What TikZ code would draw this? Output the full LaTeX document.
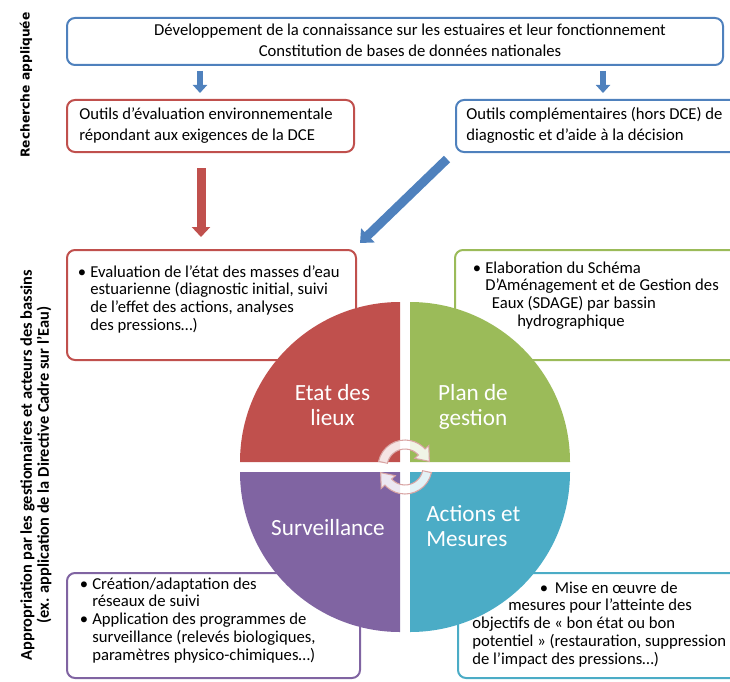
\documentclass[tikz,border=0pt]{standalone}
\usepackage{fontspec}
\setmainfont{Carlito}
\newfontfamily\verdanalike{DejaVu Sans}
\usetikzlibrary{arrows.meta,fit,calc}
\definecolor{oBlue}{HTML}{4F81BD}
\definecolor{oRed}{HTML}{C0504D}
\definecolor{oGreen}{HTML}{9BBB59}
\definecolor{oPurple}{HTML}{8064A2}
\definecolor{oTeal}{HTML}{4BACC6}
\definecolor{cycEdge}{HTML}{D9A5A4}
\begin{document}
\begin{tikzpicture}[x=0.75pt,y=-0.75pt,
  panel/.style={draw=#1, line width=1.5pt, rounded corners=6pt, inner sep=0pt},
  bodytext/.style={inner sep=0pt, align=left, anchor=base west, font=\fontsize{12.5}{13.4}\selectfont},
  quadlabel/.style={text=white, inner sep=0pt, anchor=base, font=\fontsize{17.4}{18.75}\selectfont},
  cyc/.style={fill=white, fill opacity=0.85, draw=cycEdge, line width=0.8pt},
]
\useasboundingbox (0,0) rectangle (730,681);

% boxes
\node[panel=oBlue, fit={(67,18) (723,65)}] (top) {};
\node[panel=oRed, fit={(67,100) (354,152)}] (evalbox) {};
\node[panel=oBlue, fit={(456,100) (745,152)}] (toolbox) {};
\node[panel=oRed, fit={(67,250) (356,360)}] (etatbox) {};
\node[panel=oGreen, fit={(455,250) (745,360)}] (planbox) {};
\node[panel=oPurple, fit={(67,573) (360,678)}] (survbox) {};
\node[panel=oTeal, fit={(458,573) (745,678)}] (actbox) {};

% box texts (base anchor = baseline of last line)
\node[bodytext, align=center, anchor=base, font=\fontsize{12.5}{15.75}\selectfont] (topTxt) at (410,57)
  {Développement de la connaissance sur les estuaires et leur fonctionnement\\Constitution de bases de données nationales};
\node[bodytext, font=\fontsize{12.5}{15}\selectfont] (evalTxt) at (79,140)
  {Outils d’évaluation environnementale\\répondant aux exigences de la DCE};
\node[bodytext, font=\fontsize{12.5}{15}\selectfont] (toolTxt) at (466,140)
  {Outils complémentaires (hors DCE) de\\diagnostic et d’aide à la décision};
\node[bodytext] (etatTxt) at (90,330.6)
  {\llap{\textbullet\hspace{3pt}}Evaluation de l’état des masses d’eau\\estuarienne (diagnostic initial, suivi\\de l’effet des actions, analyses\\des pressions…)};
\node[bodytext] (planTxt) at (485,326.6)
  {\llap{\textbullet\hspace{3pt}}Elaboration du Schéma\\D’Aménagement et de Gestion des\\\hspace*{5pt}Eaux (SDAGE) par bassin\\\hspace*{24pt}hydrographique};
\node[bodytext] (survTxt) at (92,660.5)
  {\llap{\textbullet\hspace{3pt}}Création/adaptation des\\réseaux de suivi\\\llap{\textbullet\hspace{3pt}}Application des programmes de\\surveillance (relevés biologiques,\\paramètres physico-chimiques…)};
\node[bodytext] (actTxt) at (472,664.5)
  {\hspace*{62pt}\llap{\textbullet\hspace{5pt}}Mise en œuvre de\\\hspace*{27pt}mesures pour l’atteinte des\\objectifs de « bon état ou bon\\potentiel » (restauration, suppression\\de l’impact des pressions…)};

% side labels
\node[rotate=90, inner sep=0pt, font=\verdanalike\bfseries\fontsize{9.2}{10}\selectfont] (lblRech) at (26,85) {Recherche appliquée};
\node[rotate=90, inner sep=0pt, align=center, font=\bfseries\fontsize{12.3}{12.75}\selectfont] (lblAppr) at (36,465)
  {Appropriation par les gestionnaires et acteurs des bassins\\(ex. application de la Directive Cadre sur l’Eau)};

% quadrants
\fill[oRed] (400,462) -- (240,462) arc[start angle=180,end angle=270,radius=160] -- cycle;
\fill[oGreen] (410,462) -- (410,302) arc[start angle=270,end angle=360,radius=160] -- cycle;
\fill[oTeal] (410,472) -- (570,472) arc[start angle=0,end angle=90,radius=160] -- cycle;
\fill[oPurple] (400,472) -- (400,632) arc[start angle=90,end angle=180,radius=160] -- cycle;

\node[quadlabel, align=center] (qEtat) at (332.5,425) {Etat des\\lieux};
\node[quadlabel, align=center] (qPlan) at (473,425) {Plan de\\gestion};
\node[quadlabel] (qSurv) at (328,535) {Surveillance};
\node[quadlabel, align=left, anchor=base west] (qAct) at (426,546) {Actions et\\Mesures};

% cycle arrows
\coordinate (C) at (405,467);
\filldraw[cyc] ($(C)+(192:27)$) arc[start angle=192,end angle=318,radius=27]
  -- ($(C)+(318:32)$) -- ($(C)+(347:25)$) -- ($(C)+(318:13)$) -- ($(C)+(318:18)$)
  arc[start angle=318,end angle=192,radius=18] -- cycle;
\filldraw[cyc] ($(C)+(12:27)$) arc[start angle=12,end angle=138,radius=27]
  -- ($(C)+(138:32)$) -- ($(C)+(167:25)$) -- ($(C)+(138:13)$) -- ($(C)+(138:18)$)
  arc[start angle=138,end angle=12,radius=18] -- cycle;

% block arrows
\coordinate (a1s) at (200,71); \coordinate (a1e) at (200,93);
\coordinate (a2s) at (603,71); \coordinate (a2e) at (603,93);
\coordinate (a3s) at (201,168); \coordinate (a3e) at (201,237);
\coordinate (a4s) at (447,159); \coordinate (a4e) at (360,243);
\draw[oBlue, line width=4.5pt, -{Triangle[width=10.5pt,length=6pt]}] (a1s) -- (a1e);
\draw[oBlue, line width=4.5pt, -{Triangle[width=10.5pt,length=6pt]}] (a2s) -- (a2e);
\draw[oRed, line width=6.75pt, -{Triangle[width=13.5pt,length=7.5pt]}] (a3s) -- (a3e);
\draw[oBlue, line width=6.75pt, -{Triangle[width=14.25pt,length=8.25pt]}] (a4s) -- (a4e);
\end{tikzpicture}
\end{document}
